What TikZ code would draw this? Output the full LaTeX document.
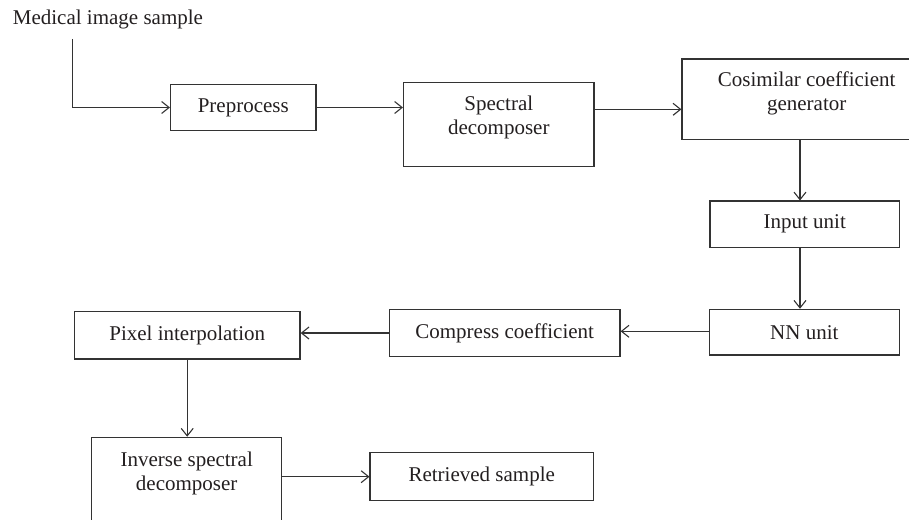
\documentclass[tikz,border=0pt]{standalone}
\usepackage{fontspec}
\setmainfont{Liberation Serif}
\usetikzlibrary{arrows.meta}
\definecolor{ln}{HTML}{333333}
\definecolor{tx}{HTML}{231F20}
\begin{document}
\begin{tikzpicture}[x=1pt,y=-1pt,
  every node/.style={text=tx,font=\fontsize{21}{24.5}\selectfont},
  blk/.style={draw=ln,line width=1.15pt,rectangle,inner sep=0pt,align=center},
  arr/.style={draw=ln,line width=1.15pt,-{Straight Barb[length=7.5pt,width=12pt,line width=1.1pt]}},
  txt/.style={align=center,inner sep=0pt}]
\useasboundingbox (0,0) rectangle (909,519);
\clip (0,0) rectangle (909,519);
\node[anchor=base west,inner sep=0pt] (title) at (12.7,24.3) {Medical image sample};
\coordinate (start) at (72.7,39);
\node[blk,minimum width=145.5pt,minimum height=46.4pt] (pre) at (243.3,107.5) {Preprocess};
\node[blk,minimum width=190.5pt,minimum height=84pt] (spec) at (498.8,124.7) {};
\node[txt] (spect) at (498.8,117.5) {Spectral\\decomposer};
\node[blk,minimum width=249.4pt,minimum height=80.3pt] (cos) at (806.7,99.2) {};
\node[txt] (cost) at (806.7,93.3) {Cosimilar coefficient\\generator};
\node[blk,minimum width=189.3pt,minimum height=46.3pt] (inp) at (804.7,224.2) {Input unit};
\node[blk,minimum width=190pt,minimum height=45.7pt] (nn) at (804.3,332.2) {NN unit};
\node[blk,minimum width=230.7pt,minimum height=47.4pt] (comp) at (504.7,333) {Compress coefficient};
\node[blk,minimum width=225.7pt,minimum height=47.3pt] (pix) at (187.2,335.3) {Pixel interpolation};
\node[blk,minimum width=190pt,minimum height=84pt] (inv) at (186.7,479.3) {};
\node[txt] (invt) at (186.7,473.5) {Inverse spectral\\decomposer};
\node[blk,minimum width=223.3pt,minimum height=48pt] (ret) at (481.7,476.7) {Retrieved sample};
% connectors
\draw[arr] (start) |- (pre.west);
\draw[arr] (pre.east) -- (pre.east -| spec.west);
\draw[arr] (spec.west |- 0,109.3) ++(190.5,0) coordinate (se) -- (se -| cos.west);
\draw[arr] (cos.south -| 800,0) coordinate (cs) -- (cs |- inp.north);
\draw[arr] (inp.south -| 800,0) coordinate (is) -- (is |- nn.north);
\draw[arr] (nn.west |- 0,331.3) coordinate (nw) -- (nw -| comp.east);
\draw[arr] (comp.west |- 0,333) coordinate (cw) -- (cw -| pix.east);
\draw[arr] (pix.south) -- (pix.south |- inv.north);
\draw[arr] (inv.east |- ret.west) coordinate (ie) -- (ret.west);
\end{tikzpicture}
\end{document}
